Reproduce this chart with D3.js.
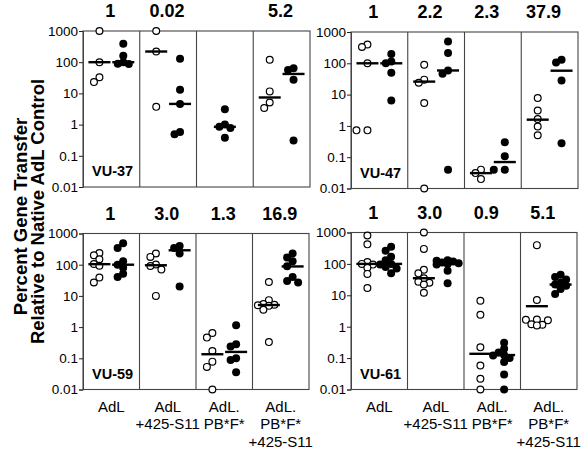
<!DOCTYPE html>
<html><head><meta charset="utf-8">
<script src="https://cdn.jsdelivr.net/npm/d3@7"></script>
<style>
html,body{margin:0;padding:0;background:#fff;}
svg{display:block;font-family:Arial,"Liberation Sans",Helvetica,sans-serif;}
</style></head>
<body>
<script>
// ---------- DATA ----------
const categories = [["AdL"], ["AdL", "+425-S11"], ["AdL.", "PB*F*"], ["AdL.", "PB*F*", "+425-S11"]];
const tickValues = [1000, 100, 10, 1, 0.1, 0.01];
const tickLabels = ["1000", "100", "10", "1", "0.1", "0.01"];
const yTitle = ["Percent Gene Transfer", "Relative to Native AdL Control"];
const panelNames = ["VU-37", "VU-47", "VU-59", "VU-61"];

// VU-37
const vu37Open = [[1000, 100, 33, 23], [1000, 220, 3.7], [], [120, 11.6, 5.1, 3.4]];
const vu37Filled = [[390, 160, 100, 90, 88], [128, 13, 4.6, 0.58, 0.49], [3.1, 1.0, 0.85, 0.78, 0.38], [64, 56, 27.5, 0.31]];
const vu37OpenMedian = [100, 220, null, 7.4];
const vu37FilledMedian = [100, 4.6, 0.85, 42];
const vu37Ratio = ["1", "0.02", "", "5.2"];

// VU-47
const vu47Open = [[400, 330, 100, 0.72, 0.72], [90, 30, 24, 5.4, 0.01], [0.04, 0.031, 0.02], [7.8, 3.1, 1.66, 0.96, 0.5]];
const vu47Filled = [[200, 115, 100, 50, 6.5], [500, 213, 59, 46, 0.04], [0.3, 0.107, 0.04, 0.04], [130, 107, 28, 0.28]];
const vu47OpenMedian = [100, 26, 0.031, 1.58];
const vu47FilledMedian = [100, 59, 0.07, 58];
const vu47Ratio = ["1", "2.2", "2.3", "37.9"];

// VU-59
const vu59Open = [[235, 200, 150, 105, 93, 39, 27], [228, 178, 101, 91, 70, 10], [0.65, 0.46, 0.17, 0.078, 0.053, 0.01], [28, 7.3, 5.5, 5.2, 5.0, 4.8, 3.6, 0.33]];
const vu59Filled = [[490, 340, 130, 100, 80, 51, 40], [400, 345, 230, 20], [1.15, 0.28, 0.24, 0.1, 0.089, 0.036], [230, 170, 130, 90, 40, 30, 27]];
const vu59OpenMedian = [104, 96, 0.135, 5.1];
const vu59FilledMedian = [100, 290, 0.16, 88];
const vu59Ratio = ["1", "3.0", "1.3", "16.9"];

// VU-61
const vu61Open = [[800, 420, 115, 100, 95, 75, 48, 17], [1000, 300, 65, 50, 35, 27, 25, 22, 12], [6.7, 2.4, 0.22, 0.058, 0.022, 0.01], [395, 7.1, 1.7, 1.65, 1.6, 1.2, 1.15, 1.1]];
const vu61Filled = [[350, 260, 170, 130, 100, 95, 80, 72, 50], [130, 125, 120, 110, 105, 100, 95, 60, 24], [0.31, 0.2, 0.15, 0.125, 0.12, 0.1, 0.075, 0.03, 0.01], [45, 38, 32, 25, 22, 20, 16, 11]];
const vu61OpenMedian = [100, 35, 0.137, 4.5];
const vu61FilledMedian = [100, 105, 0.125, 22];
const vu61Ratio = ["1", "3.0", "0.9", "5.1"];

// ---------- LAYOUT ----------
const W = 583, H = 451;
const svg = d3.select("body").append("svg").attr("width", W).attr("height", H);

const panels = [
  {name: panelNames[0], open: vu37Open, filled: vu37Filled, om: vu37OpenMedian, fm: vu37FilledMedian, ratio: vu37Ratio, x0: 83, x1: 310, y0: 31, y1: 187, hShift: 0},
  {name: panelNames[1], open: vu47Open, filled: vu47Filled, om: vu47OpenMedian, fm: vu47FilledMedian, ratio: vu47Ratio, x0: 351, x1: 578, y0: 32, y1: 188.5, hShift: -5},
  {name: panelNames[2], open: vu59Open, filled: vu59Filled, om: vu59OpenMedian, fm: vu59FilledMedian, ratio: vu59Ratio, x0: 83, x1: 309, y0: 233.5, y1: 389.5, hShift: 0, bottom: true},
  {name: panelNames[3], open: vu61Open, filled: vu61Filled, om: vu61OpenMedian, fm: vu61FilledMedian, ratio: vu61Ratio, x0: 351, x1: 577, y0: 232.5, y1: 389.5, hShift: -5, bottom: true}
];

const R = 3.4;

function dodge(values, y, cx) {
  const pts = values.map(v => ({v, y: y(v)})).sort((a, b) => a.y - b.y);
  const placed = [];
  const s = 5.5, thr = 5.6;
  const cands = [0, -s, s, -2 * s, 2 * s];
  pts.forEach(p => {
    let chosen = null, bestD = -1, bestX = cx;
    for (const c of cands) {
      const x = cx + c;
      const d = placed.length ? d3.min(placed, q => Math.hypot(q.x - x, q.y - p.y)) : Infinity;
      if (d >= thr) { chosen = x; break; }
      if (d > bestD) { bestD = d; bestX = x; }
    }
    p.x = chosen != null ? chosen : bestX;
    placed.push(p);
  });
  return placed;
}

panels.forEach(P => {
  const g = svg.append("g");
  const y = d3.scaleLog().domain([0.01, 1000]).range([P.y1, P.y0]);
  const band = d3.scaleBand().domain(d3.range(4)).range([P.x0, P.x1]).padding(0);

  // frame and dividers
  g.append("rect").attr("x", P.x0).attr("y", P.y0).attr("width", P.x1 - P.x0).attr("height", P.y1 - P.y0)
    .attr("fill", "none").attr("stroke", "#444").attr("stroke-width", 1.1);
  d3.range(1, 4).forEach(i => {
    g.append("line").attr("x1", band(i)).attr("x2", band(i)).attr("y1", P.y0).attr("y2", P.y1)
      .attr("stroke", "#444").attr("stroke-width", 1.1);
  });

  // y axis
  const ax = g.append("g").attr("transform", `translate(${P.x0},0)`)
    .call(d3.axisLeft(y).tickValues(tickValues).tickFormat((d, i) => tickLabels[i]).tickSize(4).tickPadding(1));
  ax.select(".domain").attr("stroke", "#444");
  ax.selectAll(".tick line").attr("stroke", "#222");
  ax.selectAll("text").attr("font-size", 13.5).attr("fill", "#000").attr("font-family", "Arial, Liberation Sans, sans-serif");

  const bw = band.bandwidth();
  d3.range(4).forEach(i => {
    const left = band(i);
    const hasOpen = P.open[i].length > 0;
    const cxO = left + 0.29 * bw;
    const cxF = hasOpen ? left + 0.71 * bw : left + 0.5 * bw;

    // ratio header
    if (P.ratio[i]) {
      svg.append("text").attr("x", left + bw / 2 + P.hShift - 1).attr("y", P.y0 - 14)
        .attr("text-anchor", "middle").attr("font-size", 18).attr("font-weight", "bold").text(P.ratio[i]);
    }

    // points
    g.selectAll(null).data(dodge(P.open[i], y, cxO)).join("circle")
      .attr("cx", d => d.x).attr("cy", d => d.y).attr("r", R)
      .attr("fill", "#fff").attr("stroke", "#000").attr("stroke-width", 1.2);
    g.selectAll(null).data(dodge(P.filled[i], y, cxF)).join("circle")
      .attr("cx", d => d.x).attr("cy", d => d.y).attr("r", R + 0.6)
      .attr("fill", "#000").attr("stroke", "none");

    // median lines
    if (P.om[i] != null) {
      g.append("line").attr("x1", cxO - 11).attr("x2", cxO + 11).attr("y1", y(P.om[i])).attr("y2", y(P.om[i]))
        .attr("stroke", "#000").attr("stroke-width", 2.4);
    }
    if (P.fm[i] != null) {
      g.append("line").attr("x1", cxF - 11).attr("x2", cxF + 11).attr("y1", y(P.fm[i])).attr("y2", y(P.fm[i]))
        .attr("stroke", "#000").attr("stroke-width", 2.4);
    }

    // category labels
    if (P.bottom) {
      const t = svg.append("text").attr("text-anchor", "middle").attr("font-size", 15);
      categories[i].forEach((line, j) => {
        t.append("tspan").attr("x", left + bw / 2).attr("y", P.y1 + 22 + j * 17.8).text(line);
      });
    }
  });

  // panel name
  g.append("text").attr("x", P.x0 + 9).attr("y", P.y1 - 11).attr("font-size", 14.5).attr("font-weight", "bold").text(P.name);
});

// y title
[216.5, 211.5].forEach((cy, j) => {
  svg.append("text").attr("transform", `translate(${27.3 + j * 16.6},${cy}) rotate(-90)`)
    .attr("text-anchor", "middle").attr("font-size", 18.5).attr("font-weight", "bold").text(yTitle[j]);
});
</script>
</body></html>
